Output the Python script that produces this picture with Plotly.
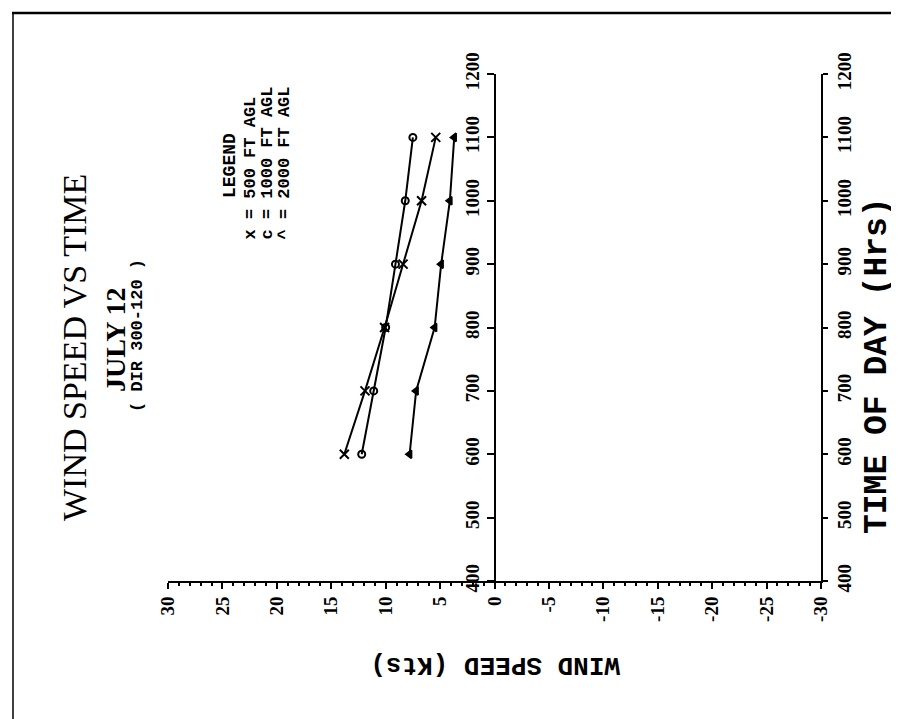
import plotly.graph_objects as go

# ---- data ----
times = [600, 700, 800, 900, 1000, 1100]
speed_500ft = [13.8, 11.9, 10.1, 8.4, 6.7, 5.4]
speed_1000ft = [12.2, 11.1, 10.0, 9.1, 8.2, 7.5]
speed_2000ft = [7.8, 7.2, 5.5, 4.9, 4.1, 3.7]
wind_ticks = list(range(-30, 31, 5))
wind_ticktext = [str(v) for v in wind_ticks]
time_ticks = list(range(400, 1201, 100))
time_ticktext = [str(t) for t in time_ticks]
legend_lines = ["x = 500 FT AGL", "c = 1000 FT AGL", "^ = 2000 FT AGL"]

W, H = 899, 719
L, R, T, B = 160, 86, 66, 146
PW, PH = W - L - R, H - T - B


def px(x):
    return (x - L) / PW


def py(y):
    return (H - B - y) / PH


SERIF = "Liberation Serif"
MONO = "Liberation Mono"

fig = go.Figure()
series = [
    (speed_500ft, "500 FT AGL", "x-thin", 9),
    (speed_1000ft, "1000 FT AGL", "circle-open", 7),
    (speed_2000ft, "2000 FT AGL", "triangle-left", 7),
]
for vals, name, sym, sz in series:
    fig.add_trace(go.Scatter(
        x=vals, y=times, mode="lines+markers", name=name,
        line=dict(color="black", width=2),
        marker=dict(symbol=sym, size=sz, color="black",
                    line=dict(color="black", width=2)),
        showlegend=False,
    ))

tickfont = dict(family=SERIF, size=19, color="black", weight="bold")

fig.update_layout(
    width=W, height=H,
    margin=dict(l=L, r=R, t=T, b=B),
    paper_bgcolor="white", plot_bgcolor="white",
    xaxis=dict(
        range=[30, -30], tickvals=wind_ticks, ticktext=wind_ticktext,
        ticks="outside", ticklen=6, tickwidth=2, tickcolor="black",
        showline=True, linecolor="black", linewidth=2,
        showgrid=False, zeroline=False, tickangle=-90, tickfont=tickfont,
        minor=dict(dtick=1, ticks="outside", ticklen=3, tickwidth=1.5,
                   tickcolor="black", showgrid=False),
    ),
    yaxis=dict(
        range=[400, 1200], tickvals=time_ticks, ticktext=time_ticktext,
        anchor="free", position=0.5, side="left",
        ticks="outside", ticklen=7, tickwidth=2, tickcolor="black",
        showline=True, linecolor="black", linewidth=2,
        showgrid=False, zeroline=False, tickangle=-90, tickfont=tickfont,
    ),
    yaxis2=dict(
        range=[400, 1200], tickvals=time_ticks, ticktext=time_ticktext,
        overlaying="y", side="right", anchor="x",
        ticks="outside", ticklen=5, tickwidth=2, tickcolor="black",
        showline=True, linecolor="black", linewidth=2,
        showgrid=False, zeroline=False, tickangle=-90, tickfont=tickfont,
    ),
)
# invisible trace so the right-hand time axis is drawn
fig.add_trace(go.Scatter(x=[None], y=[None], yaxis="y2", showlegend=False))

ann = []


def add_text(text, x, y, size, family=MONO, weight="bold", angle=-90,
             xanchor="center", yanchor="middle"):
    ann.append(dict(text=text, x=px(x), y=py(y), xref="paper", yref="paper",
                    showarrow=False, textangle=angle,
                    xanchor=xanchor, yanchor=yanchor,
                    font=dict(family=family, size=size, color="black",
                              weight=weight)))


add_text("WIND SPEED VS TIME", 66, 340, 34, family=SERIF, weight="normal")
add_text("JULY 12", 107, 332, 28, family=SERIF)
add_text("( DIR 300-120 )", 129, 328, 17)
add_text("LEGEND", 222, 158, 18)
for i, line in enumerate(legend_lines):
    add_text(line, 242 + 17 * i, 234, 17, yanchor="bottom")
add_text("WIND SPEED (Kts)", 487, 657, 26, angle=180)
add_text("TIME OF DAY (Hrs)", 869, 358, 33)
fig.update_layout(annotations=ann)

# page border
shapes = [
    dict(type="line", x0=px(4), x1=px(898), y0=py(5), y1=py(5),
         xref="paper", yref="paper", line=dict(color="black", width=2.5)),
    dict(type="line", x0=px(5), x1=px(5), y0=py(5), y1=py(715),
         xref="paper", yref="paper", line=dict(color="black", width=1.5)),
    dict(type="line", x0=px(4), x1=px(898), y0=py(715), y1=py(715),
         xref="paper", yref="paper", line=dict(color="black", width=1.5)),
]
fig.update_layout(shapes=shapes)

fig.write_html("out.html")
